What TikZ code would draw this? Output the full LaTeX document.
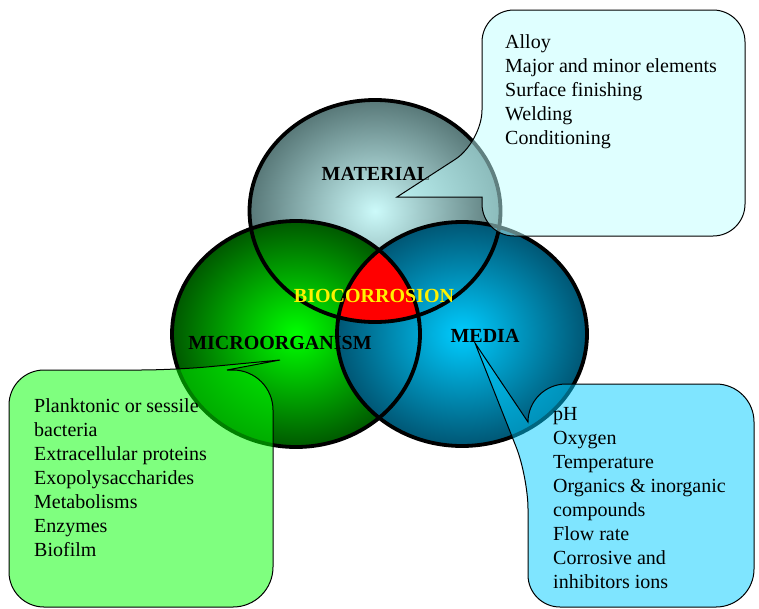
\documentclass[tikz,border=0pt]{standalone}
\usepackage{fontspec}
\setmainfont{Liberation Serif}
\usepackage{tikz}

\definecolor{matin}{RGB}{204,250,250}
\definecolor{matout}{RGB}{88,120,120}
\definecolor{micin}{RGB}{0,255,0}
\definecolor{micout}{RGB}{0,88,0}
\definecolor{medin}{RGB}{0,204,255}
\definecolor{medout}{RGB}{0,86,116}
\definecolor{matfill}{RGB}{192,255,255}
\definecolor{micfill}{RGB}{0,255,0}
\definecolor{medfill}{RGB}{0,204,255}

\pgfdeclareradialshading{matshade}{\pgfpoint{0bp}{0bp}}{color(0bp)=(matin); color(25bp)=(matout); color(50bp)=(matout)}
\pgfdeclareradialshading{micshade}{\pgfpoint{0bp}{0bp}}{color(0bp)=(micin); color(25bp)=(micout); color(50bp)=(micout)}
\pgfdeclareradialshading{medshade}{\pgfpoint{0bp}{0bp}}{color(0bp)=(medin); color(25bp)=(medout); color(50bp)=(medout)}

\tikzset{
  ring/.style={draw=black, line width=3.8},
  callbox/.style={draw=black, line width=1, fill opacity=0.5},
  lbl/.style={inner sep=0pt, font=\fontsize{20}{24}\selectfont\bfseries},
  items/.style={inner sep=0pt, align=left, anchor=north west, font=\fontsize{20}{24}\selectfont}
}

\begin{document}
\begin{tikzpicture}[x=1pt, y=-1pt]
\useasboundingbox (0,0) rectangle (759,608);
%centres of the three sets
\coordinate (matc) at (375,211);
\coordinate (micc) at (296,334);
\coordinate (medc) at (462,334);

%the shaded sets
\shade[shading=matshade] (matc) ellipse [x radius=125.5, y radius=111];
\shade[shading=micshade] (micc) ellipse [x radius=124, y radius=113];
\shade[shading=medshade] (medc) ellipse [x radius=125, y radius=112];

%the common part
\begin{scope}
\clip (matc) ellipse [x radius=125.5, y radius=111];
\clip (micc) ellipse [x radius=124, y radius=113];
\fill[red] (medc) ellipse [x radius=125, y radius=112];
\end{scope}

%outlines on top
\draw[ring] (matc) ellipse [x radius=125.5, y radius=111];
\draw[ring] (micc) ellipse [x radius=124, y radius=113];
\draw[ring] (medc) ellipse [x radius=125, y radius=112];

%labels of the sets
\node[lbl] (matlbl) at (376,174) {MATERIAL};
\node[lbl] (miclbl) at (280,343) {MICROORGANISM};
\node[lbl] (medlbl) at (485,336) {MEDIA};
\node[lbl, text=yellow] (biolbl) at (374,296) {BIOCORROSION};

%the callouts
\coordinate (mattip) at (397,197);
\coordinate (mictip) at (280,360);
\coordinate (medtip) at (475,343);
\draw[callbox, fill=matfill] (620,10) [rounded corners=32] -- (482,10) -- (482,142) [sharp corners] -- (mattip) -- (482,197) [rounded corners=32] -- (482,236) -- (745,236) -- (745,10) -- cycle;
\draw[callbox, fill=micfill] (100,607) [rounded corners=35] -- (9,607) -- (9,370) -- (175,370) [sharp corners] -- (mictip) -- (227,370) [rounded corners=40] -- (273,370) -- (273,607) -- cycle;
\draw[callbox, fill=medfill] (640,607) [rounded corners=32] -- (528,607) -- (528,477) [sharp corners] -- (medtip) -- (528,422) [rounded corners=38] -- (528,384) -- (754,384) -- (754,607) -- cycle;

%the lists
\node[items] (matlist) at (505,34) {Alloy\\Major and minor elements\\Surface finishing\\Welding\\Conditioning};
\node[items] (miclist) at (34,398) {Planktonic or sessile\\bacteria\\Extracellular proteins\\Exopolysaccharides\\Metabolisms\\Enzymes\\Biofilm};
\node[items] (medlist) at (553,407) {pH\\Oxygen\\Temperature\\Organics \& inorganic\\compounds\\Flow rate\\Corrosive and\\inhibitors ions};
\end{tikzpicture}
\end{document}
